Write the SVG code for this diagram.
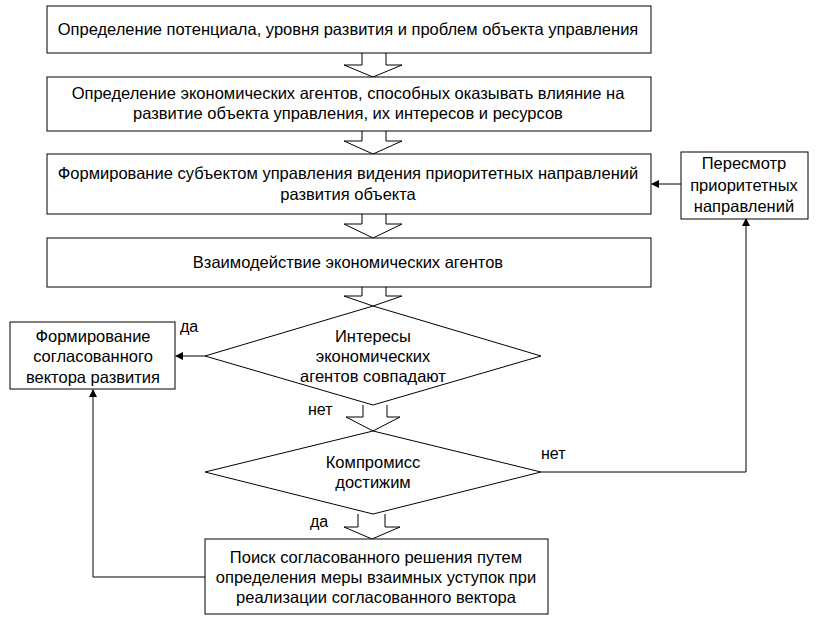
<svg xmlns="http://www.w3.org/2000/svg" width="819" height="621" viewBox="0 0 819 621">
<defs>
<style>
.b{fill:#fff;stroke:#000;stroke-width:1}
.t{font-family:"Liberation Sans",Arial,sans-serif;font-size:16.5px;fill:#000;text-anchor:middle}
.l{font-family:"Liberation Sans",Arial,sans-serif;font-size:16px;fill:#000}
.c{fill:none;stroke:#000;stroke-width:1}
.ba{fill:#fff;stroke:#000;stroke-width:1}
</style>
<marker id="ah" markerWidth="8" markerHeight="8" refX="7" refY="4" orient="auto" markerUnits="userSpaceOnUse">
<path d="M0,0 L8,4 L0,8 Z" fill="#000"/>
</marker>
</defs>
<rect width="819" height="621" fill="#fff"/>
<g id="connectors">
<path class="ba" d="M362,53 V65 H344 L373,77 L402,65 H386 V53"/>
<path class="ba" d="M362,131 V141 H344 L373,154 L402,141 H386 V131"/>
<path class="ba" d="M362,214 V224 H344 L373,238 L402,224 H386 V214"/>
<path class="ba" d="M362,287 V296 H344 L373,306 L402,296 H386 V287"/>
<path class="ba" d="M363,405 V417 H346 L373,431 L400,417 H387 V405"/>
<path class="ba" d="M358,514 V527 H344 L372,539 L400,527 H385 V514"/>
<line class="c" x1="205" y1="356" x2="176" y2="356" marker-end="url(#ah)"/>
<line class="c" x1="681" y1="184" x2="652" y2="184" marker-end="url(#ah)"/>
<polyline class="c" points="541,472 746,472 746,219" marker-end="url(#ah)"/>
<polyline class="c" points="205,577 93,577 93,390" marker-end="url(#ah)"/>
<text class="l" x="180" y="332">да</text>
<text class="l" x="308" y="415">нет</text>
<text class="l" x="541" y="459">нет</text>
<text class="l" x="310" y="527">да</text>
</g>
<g id="n1">
<rect class="b" x="47" y="6" width="604" height="47"/>
<text class="t" x="348" y="35">Определение потенциала, уровня развития и проблем объекта управления</text>
</g>
<g id="n2">
<rect class="b" x="47" y="77" width="604" height="54"/>
<text class="t" x="348" y="99">Определение экономических агентов, способных оказывать влияние на</text>
<text class="t" x="348" y="119">развитие объекта управления, их интересов и ресурсов</text>
</g>
<g id="n3">
<rect class="b" x="47" y="154" width="604" height="60"/>
<text class="t" x="348" y="179">Формирование субъектом управления видения приоритетных направлений</text>
<text class="t" x="348" y="200">развития объекта</text>
</g>
<g id="n4">
<rect class="b" x="47" y="238" width="604" height="49"/>
<text class="t" x="348" y="268">Взаимодействие экономических агентов</text>
</g>
<g id="n5">
<rect class="b" x="681" y="152" width="127" height="67"/>
<text class="t" x="744" y="169">Пересмотр</text>
<text class="t" x="744" y="191">приоритетных</text>
<text class="t" x="744" y="212">направлений</text>
</g>
<g id="d1">
<polygon class="b" points="373,306 541,356 373,405 205,356"/>
<text class="t" x="373" y="342">Интересы</text>
<text class="t" x="373" y="362">экономических</text>
<text class="t" x="373" y="382">агентов совпадают</text>
</g>
<g id="n6">
<rect class="b" x="10" y="322" width="165" height="67"/>
<text class="t" x="93" y="342">Формирование</text>
<text class="t" x="93" y="362">согласованного</text>
<text class="t" x="93" y="383">вектора развития</text>
</g>
<g id="d2">
<polygon class="b" points="373,431 541,472 373,514 205,472"/>
<text class="t" x="373" y="468">Компромисс</text>
<text class="t" x="373" y="488">достижим</text>
</g>
<g id="n7">
<rect class="b" x="205" y="539" width="343" height="75"/>
<text class="t" x="376" y="563">Поиск согласованного решения путем</text>
<text class="t" x="376" y="583">определения меры взаимных уступок при</text>
<text class="t" x="376" y="603">реализации согласованного вектора</text>
</g>
</svg>
